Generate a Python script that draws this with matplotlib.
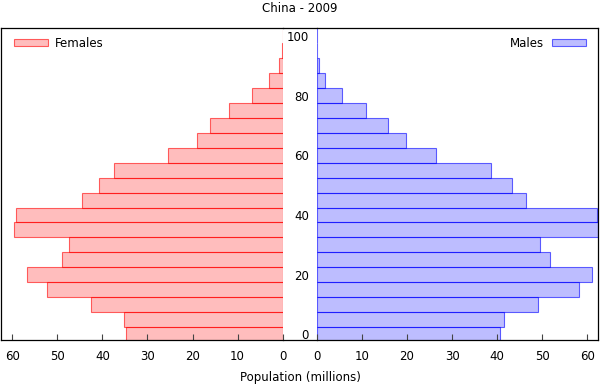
import matplotlib
matplotlib.use("Agg")
import matplotlib.pyplot as plt
import numpy as np

# China 2009, population by 5-year age group (millions)
ages = np.arange(0, 101, 5)
age_ticks = [0, 20, 40, 60, 80, 100]
pop_ticks = [0, 10, 20, 30, 40, 50, 60]
females = [34.7, 35.1, 42.4, 52.2, 56.8, 48.9, 47.4, 59.6, 59.2, 44.5, 40.8,
           37.3, 25.4, 19.1, 16.1, 12.0, 6.9, 3.0, 0.75, 0.12, 0.02]
males = [40.6, 41.5, 49.0, 58.2, 60.9, 51.8, 49.5, 62.4, 62.2, 46.3, 43.3,
         38.7, 26.5, 19.8, 15.9, 10.9, 5.5, 1.9, 0.45, 0.05, 0.01]

plt.rcParams['font.family'] = 'DejaVu Sans'
plt.rcParams['font.size'] = 8.5

W, H = 600, 386
fig = plt.figure(figsize=(W / 100, H / 100), dpi=100)

top, bottom = 28.3, 340.3
ax_b = (H - bottom) / H
ax_h = (bottom - top) / H
xl0, xl1 = 1.3, 282.7
xr0, xr1 = 316.7, 598.3

ax1 = fig.add_axes([xl0 / W, ax_b, (xl1 - xl0) / W, ax_h])
axm = fig.add_axes([xl1 / W, ax_b, (xr0 - xl1) / W, ax_h], zorder=-1)
ax2 = fig.add_axes([xr0 / W, ax_b, (xr1 - xr0) / W, ax_h])

xmax = max(max(females), max(males))

ax1.barh(ages, females, height=5, facecolor=(1, 0, 0, 0.26),
         edgecolor=(1, 0, 0, 0.6), linewidth=0.8, label='Females')
ax2.barh(ages, males, height=5, facecolor=(0, 0, 1, 0.26),
         edgecolor=(0, 0, 1, 0.6), linewidth=0.8, label='Males')

for ax in (ax1, ax2):
    ax.set_ylim(-1.95, 102.5)
    ax.set_xticks(pop_ticks)
    ax.tick_params(axis='x', direction='in', length=4.5, pad=7, color='#444444')
    for s in ax.spines.values():
        s.set_color('black')
        s.set_linewidth(0.9)

ax1.set_xlim(xmax, 0)
ax1.set_yticks([])
ax1.spines['right'].set_visible(False)

ax2.set_xlim(0, xmax)
ax2.set_yticks(age_ticks)
ax2.tick_params(axis='y', length=0, pad=5.5)
ax2.spines['left'].set_visible(False)

axm.set_xticks([])
axm.set_yticks([])
axm.spines['left'].set_visible(False)
axm.spines['right'].set_visible(False)
for s in axm.spines.values():
    s.set_linewidth(0.9)

aw = xl1 - xl0
ah = bottom - top
ax1.legend(loc='upper left', bbox_to_anchor=(8 / aw, 1 - 3.7 / ah),
           borderaxespad=0, frameon=False, handlelength=2.88,
           handleheight=0.6, handletextpad=0.6)
ax2.legend(loc='upper right', bbox_to_anchor=(1 - 8 / aw, 1 - 3.7 / ah),
           borderaxespad=0, frameon=False, handlelength=2.88,
           handleheight=0.6, handletextpad=0.6, markerfirst=False)

fig.text(0.5, 1 - 8 / H, 'China - 2009', ha='center', va='center')
fig.text(0.5, 1 - 377 / H, 'Population (millions)', ha='center', va='center')

fig.savefig('out.png', dpi=100)
